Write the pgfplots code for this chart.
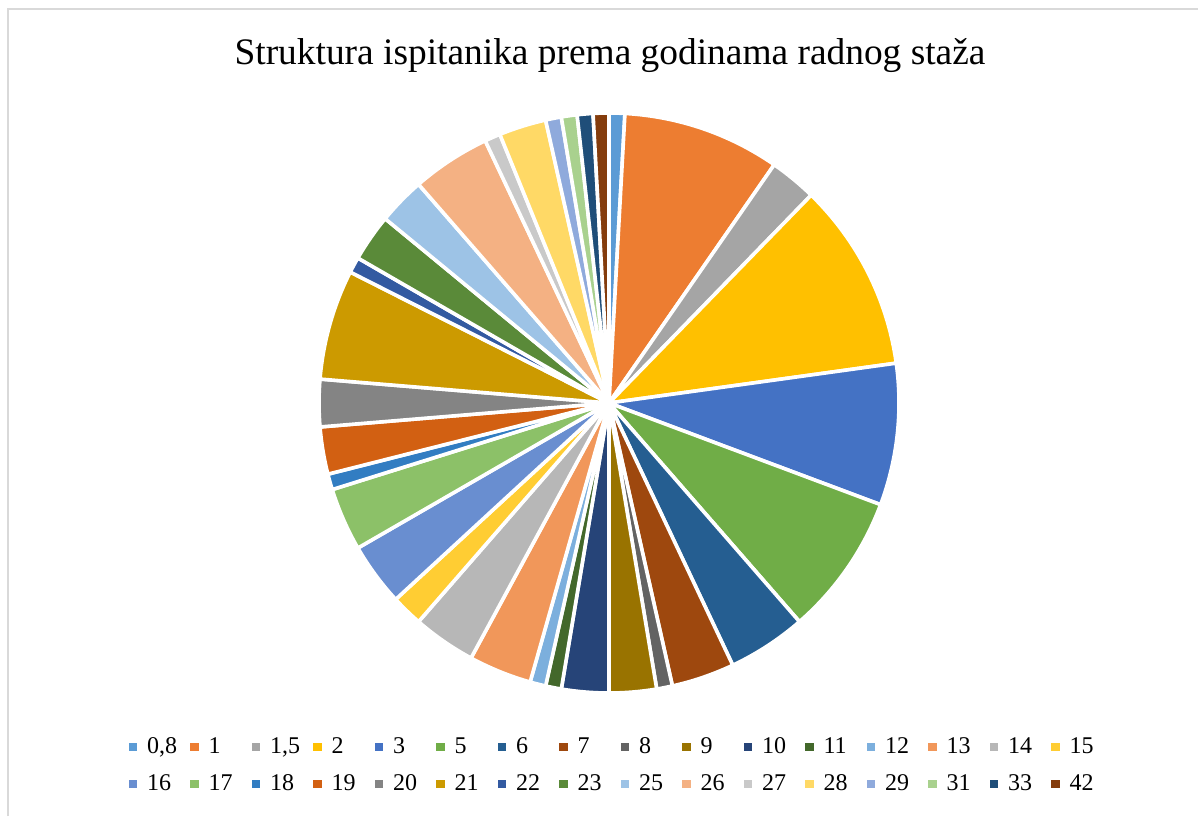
\documentclass[border=0pt]{standalone}
\usepackage{fontspec}
\setmainfont{Liberation Serif}
\usepackage{pgfplots}
\usepackage{pgfplotstable}
\pgfplotsset{compat=1.18}
\definecolor{k1}{HTML}{5B9BD5}
\definecolor{k2}{HTML}{ED7D31}
\definecolor{k3}{HTML}{A5A5A5}
\definecolor{k4}{HTML}{FFC000}
\definecolor{k5}{HTML}{4472C4}
\definecolor{k6}{HTML}{70AD47}
\definecolor{k7}{HTML}{255E91}
\definecolor{k8}{HTML}{9E480E}
\definecolor{k9}{HTML}{636363}
\definecolor{k10}{HTML}{997300}
\definecolor{k11}{HTML}{264478}
\definecolor{k12}{HTML}{43682B}
\definecolor{k13}{HTML}{7CAFDD}
\definecolor{k14}{HTML}{F1975A}
\definecolor{k15}{HTML}{B7B7B7}
\definecolor{k16}{HTML}{FFCD33}
\definecolor{k17}{HTML}{698ED0}
\definecolor{k18}{HTML}{8CC168}
\definecolor{k19}{HTML}{327DC2}
\definecolor{k20}{HTML}{D26012}
\definecolor{k21}{HTML}{848484}
\definecolor{k22}{HTML}{CC9A00}
\definecolor{k23}{HTML}{335AA1}
\definecolor{k24}{HTML}{5A8A39}
\definecolor{k25}{HTML}{9DC3E6}
\definecolor{k26}{HTML}{F4B183}
\definecolor{k27}{HTML}{C9C9C9}
\definecolor{k28}{HTML}{FFD966}
\definecolor{k29}{HTML}{8FAADC}
\definecolor{k30}{HTML}{A9D18E}
\definecolor{k31}{HTML}{1F4E79}
\definecolor{k32}{HTML}{843C0C}
\pgfplotstableread{
label value col
0,8 1 k1
1 10 k2
1,5 3 k3
2 12 k4
3 9 k5
5 9 k6
6 5 k7
7 4 k8
8 1 k9
9 3 k10
10 3 k11
11 1 k12
12 1 k13
13 4 k14
14 4 k15
15 2 k16
16 4 k17
17 4 k18
18 1 k19
19 3 k20
20 3 k21
21 7 k22
22 1 k23
23 3 k24
25 3 k25
26 5 k26
27 1 k27
28 3 k28
29 1 k29
31 1 k30
33 1 k31
42 1 k32
}\datatable
\begin{document}
\begin{tikzpicture}
\useasboundingbox (0,0) rectangle (599pt,408pt);
\fill[white] (0,0) rectangle (599pt,408pt);
\draw[gray!30, line width=1pt] (4pt,0) -- (4pt,403.5pt) -- (599pt,403.5pt);
\node[font=\fontsize{18.7}{22}\selectfont, anchor=base] at (305pt,375.5pt) {Struktura ispitanika prema godinama radnog staža};
\begin{axis}[
  x=145pt, y=145pt,
  xmin=-1.05, xmax=1.05, ymin=-1.05, ymax=1.05,
  hide axis, clip=false,
  at={(304.5pt,206.5pt)}, anchor=origin,
  legend columns=16,
  legend image code/.code={\fill[#1] (0pt,-2.1pt) rectangle (4.2pt,2.1pt);},
  legend style={draw=none, fill=none, at={(0.518,-0.095)}, anchor=center,
    font=\fontsize{12}{14}\selectfont, column sep=0pt, row sep=5pt,
    /tikz/every odd column/.append style={column sep=3pt},
    /tikz/every even column/.append style={column sep=0.75pt}},
]
\pgfplotstablegetrowsof{\datatable}
\pgfmathtruncatemacro\N{\pgfplotsretval-1}
\def\tot{0}
\pgfplotsforeachungrouped \i in {0,...,\N}{%
  \pgfplotstablegetelem{\i}{value}\of\datatable
  \pgfmathsetmacro\tot{\tot+\pgfplotsretval}%
}
\def\cum{0}
\pgfplotsforeachungrouped \i in {0,...,\N}{%
  \pgfplotstablegetelem{\i}{value}\of\datatable \let\val\pgfplotsretval
  \pgfplotstablegetelem{\i}{col}\of\datatable \let\col\pgfplotsretval
  \pgfplotstablegetelem{\i}{label}\of\datatable \let\lab\pgfplotsretval
  \pgfmathsetmacro\a{90-\cum/\tot*360}%
  \pgfmathsetmacro\b{90-(\cum+\val)/\tot*360}%
  \pgfmathsetmacro\ax{cos(\a)}%
  \pgfmathsetmacro\ay{sin(\a)}%
  \edef\temp{\noexpand\fill[\col, draw=white, line width=1.8pt, line join=round] (axis cs:0,0) -- (axis cs:\ax,\ay) arc[start angle=\a, end angle=\b, radius=145pt] -- cycle;
    \noexpand\addlegendimage{fill=\col, draw=none}
    \noexpand\addlegendentry{\noexpand\makebox[18.8pt][l]{\lab}}}%
  \temp
  \pgfmathsetmacro\cum{\cum+\val}%
}
\end{axis}
\end{tikzpicture}
\end{document}
